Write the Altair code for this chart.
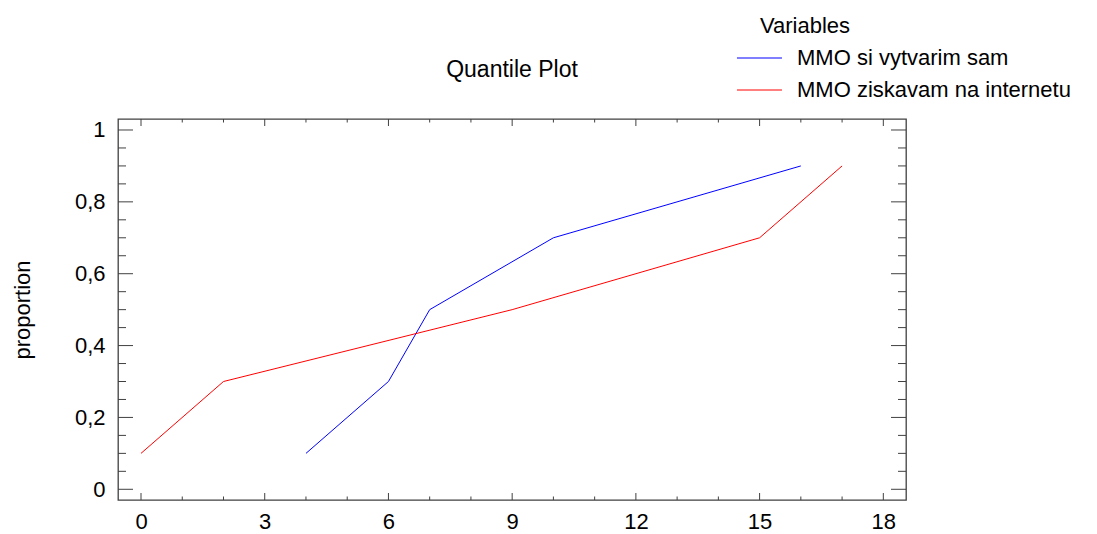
import altair as alt
import pandas as pd

# Quantile plot of two variables: value vs cumulative proportion
series_names = ["MMO si vytvarim sam", "MMO ziskavam na internetu"]
series_colors = ["#0000ff", "#ff0000"]

blue_values = [4, 6, 7, 10, 16]
red_values = [0, 2, 9, 15, 17]
proportions = [0.1, 0.3, 0.5, 0.7, 0.9]

x_labels = [0, 3, 6, 9, 12, 15, 18]
y_labels = [0, 0.2, 0.4, 0.6, 0.8, 1]

W, H = 788, 381
FONT = "Liberation Sans"
FS = 22
X_DOMAIN = [-0.558, 18.55]
Y_DOMAIN = [-0.0298, 1.0306]
FRAME = "#404040"

rows = []
for name, vals in zip(series_names, [blue_values, red_values]):
    for v, p in zip(vals, proportions):
        rows.append({"series": name, "value": v, "proportion": p})
df = pd.DataFrame(rows)

xs = alt.Scale(domain=X_DOMAIN, nice=False, zero=False)
ys = alt.Scale(domain=Y_DOMAIN, nice=False, zero=False)

x_axis = alt.Axis(values=x_labels, title=None, ticks=False, tickSize=0,
                  domain=False, grid=False, labelPadding=11,
                  labelFont=FONT, labelFontSize=FS, labelColor="#000000")
y_axis = alt.Axis(values=y_labels, title="proportion", ticks=False, tickSize=0,
                  domain=False, grid=False, labelPadding=13,
                  labelExpr="replace(format(datum.value, '~g'), '.', ',')",
                  labelFont=FONT, labelFontSize=FS, labelColor="#000000",
                  titleFont=FONT, titleFontSize=FS, titleFontWeight="normal",
                  titleColor="#000000", titleAngle=270, titleAlign="center",
                  titleBaseline="alphabetic", titleX=-89, titleY=H / 2)

# legend line sample: an asymmetric horizontal stroke so the sample sits
# to the left of the legend title
legend_stroke = "M-3.78,0H1.22"

lines = alt.Chart(df).mark_line(strokeWidth=1).encode(
    x=alt.X("value:Q", scale=xs, axis=x_axis),
    y=alt.Y("proportion:Q", scale=ys, axis=y_axis),
    color=alt.Color("series:N",
                    scale=alt.Scale(domain=series_names, range=series_colors),
                    legend=alt.Legend(title="Variables", orient="none",
                                      legendX=642, legendY=-103, padding=0,
                                      titleFont=FONT, titleFontSize=FS,
                                      titleFontWeight="normal", titleColor="#000000",
                                      titlePadding=9,
                                      labelFont=FONT, labelFontSize=FS,
                                      labelColor="#000000", labelOffset=15,
                                      labelLimit=400,
                                      symbolType=legend_stroke, symbolSize=324,
                                      symbolStrokeWidth=1, rowPadding=10)),
    order="value:Q",
)

# inside tick marks on all four sides of the frame
x_ticks = pd.DataFrame({"value": list(range(0, 19))})
x_ticks["major"] = x_ticks["value"] % 3 == 0
y_steps = list(range(0, 21))
y_ticks = pd.DataFrame({"proportion": [s / 20 for s in y_steps],
                        "major": [s % 4 == 0 for s in y_steps]})


def xtick_layer(major, y0, y1):
    return alt.Chart(x_ticks[x_ticks["major"] == major]).mark_rule(
        color=FRAME, strokeWidth=1).encode(
        x=alt.X("value:Q", scale=xs, axis=x_axis),
        y=alt.value(y0), y2=alt.value(y1))


def ytick_layer(major, x0, x1):
    return alt.Chart(y_ticks[y_ticks["major"] == major]).mark_rule(
        color=FRAME, strokeWidth=1).encode(
        y=alt.Y("proportion:Q", scale=ys, axis=y_axis),
        x=alt.value(x0), x2=alt.value(x1))


tick_layers = [
    xtick_layer(True, H, H - 7), xtick_layer(False, H, H - 3.5),
    xtick_layer(True, 0, 7), xtick_layer(False, 0, 3.5),
    ytick_layer(True, 0, 15), ytick_layer(False, 0, 8),
    ytick_layer(True, W, W - 15), ytick_layer(False, W, W - 8),
]

chart = alt.layer(lines, *tick_layers).properties(
    width=W, height=H,
    title=alt.TitleParams("Quantile Plot", font=FONT, fontSize=23, fontWeight="normal",
                          color="#000000", anchor="middle", frame="group",
                          baseline="alphabetic", offset=0, dy=84),
    autosize=alt.AutoSizeParams(type="none"),
    padding={"left": 118, "top": 119, "right": 191, "bottom": 34},
).configure_view(stroke=FRAME, strokeWidth=1.3)

chart.save("out.html", embed_options={"renderer": "svg", "actions": False})
